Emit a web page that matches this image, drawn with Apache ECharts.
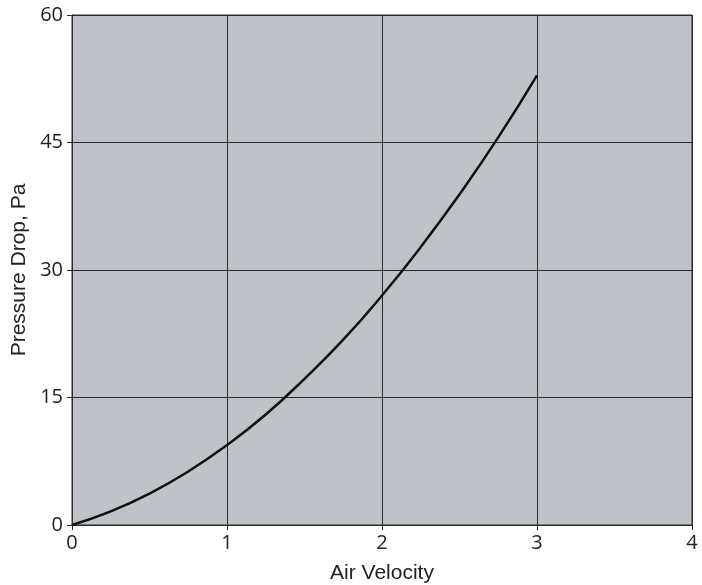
<!DOCTYPE html>
<html>
<head>
<meta charset="utf-8">
<script src="https://cdn.jsdelivr.net/npm/echarts@6/dist/echarts.min.js"></script>
<style>html,body{margin:0;padding:0;background:#fff}#c{width:702px;height:585px}</style>
</head>
<body>
<div id="c"></div>
<script>
var velocity = [0, 0.25, 0.5, 0.75, 1, 1.25, 1.5, 1.75, 2, 2.25, 2.5, 2.75, 3];
var pressureDrop = [0, 1.6, 3.7, 6.3, 9.4, 13.0, 17.2, 21.8, 27.0, 32.7, 38.9, 45.6, 52.9];
var xTicks = [0, 1, 2, 3, 4];
var yTicks = [0, 15, 30, 45, 60];

var chart = echarts.init(document.getElementById('c'));
var pts = velocity.map(function (v, i) { return [v, pressureDrop[i]]; });
chart.setOption({
  animation: false,
  grid: { left: 72, right: 10, top: 15, bottom: 60, containLabel: false, outerBoundsMode: 'none', show: true, backgroundColor: '#c0c2c9', borderColor: '#2a2a2a', borderWidth: 1 },
  xAxis: {
    type: 'value', min: xTicks[0], max: xTicks[xTicks.length - 1], interval: 1,
    name: 'Air Velocity', nameLocation: 'middle', nameGap: 38,
    nameTextStyle: { fontFamily: 'Liberation Sans', fontSize: 21, color: '#222' },
    axisLine: { show: true, lineStyle: { color: '#2a2a2a', width: 1 } },
    axisTick: { show: true, length: 5, lineStyle: { color: '#2a2a2a' } },
    axisLabel: { fontFamily: 'Open Sans', fontSize: 20, color: '#222', margin: 8 },
    splitLine: { show: true, lineStyle: { color: '#2a2a2a', width: 1 } }
  },
  yAxis: {
    type: 'value', min: yTicks[0], max: yTicks[yTicks.length - 1], interval: 15,
    name: 'Pressure Drop, Pa', nameLocation: 'middle', nameGap: 42,
    nameTextStyle: { fontFamily: 'Liberation Sans', fontSize: 21, color: '#222' },
    axisLine: { show: true, lineStyle: { color: '#2a2a2a', width: 1 } },
    axisTick: { show: true, length: 5, lineStyle: { color: '#2a2a2a' } },
    axisLabel: { fontFamily: 'Open Sans', fontSize: 20, color: '#222', margin: 9 },
    splitLine: { show: true, lineStyle: { color: '#2a2a2a', width: 1 } }
  },
  series: [{
    type: 'line', data: pts, smooth: true, showSymbol: false,
    lineStyle: { color: '#111', width: 2.5 }
  }]
});
</script>
</body>
</html>
